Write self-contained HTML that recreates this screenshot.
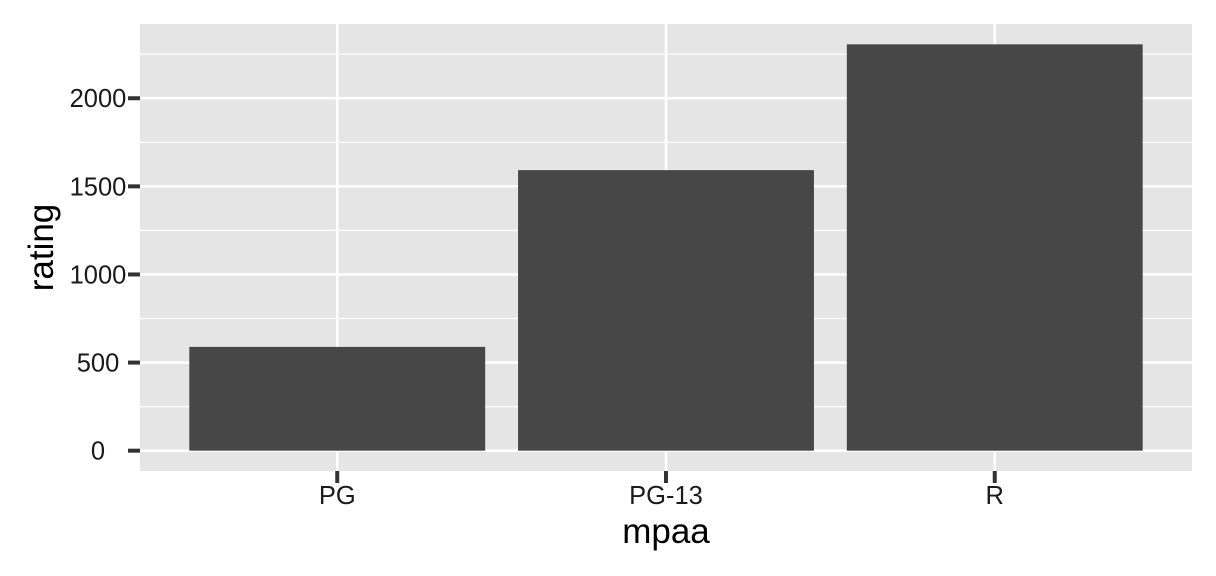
<!DOCTYPE html>
<html><head><meta charset="utf-8"><style>body{margin:0;background:#fff}svg{display:block}</style></head>
<body>
<svg id="chart" width="1216" height="576" xmlns="http://www.w3.org/2000/svg" font-family="Liberation Sans, sans-serif"></svg>
<script>
const categories = ["PG", "PG-13", "R"];
const ratingValues = [589, 1592, 2306];
const yTickValues = [0, 500, 1000, 1500, 2000];
const yTickLabels = ["0", "500", "1000", "1500", "2000"];

const svg = document.getElementById('chart');
const NS = 'http://www.w3.org/2000/svg';
const L = 140, R = 1192, T = 24, B = 471;
const yMax = Math.max(...ratingValues) * 1.05, yMin = -Math.max(...ratingValues) * 0.05;
const y = v => B - (v - yMin) / (yMax - yMin) * (B - T);
const step = (R - L) / (categories.length + 0.2);
const x = i => L + step * (0.6 + i);
function el(tag, attrs, parent) {
  const e = document.createElementNS(NS, tag);
  for (const k in attrs) e.setAttribute(k, attrs[k]);
  (parent || svg).appendChild(e);
  return e;
}
const bg = el('rect', {x: L, y: T, width: R - L, height: B - T, fill: '#e5e5e5'});


for (let i = 0; i < yTickValues.length - 1; i++) {
  const m = (yTickValues[i] + yTickValues[i + 1]) / 2;
  const g = el('line', {x1: L, x2: R, y1: y(m), y2: y(m), stroke: '#fff', 'stroke-width': 1.2});
  
  
}
const topMinor = yTickValues[yTickValues.length - 1] + 250;
if (y(topMinor) > T) {
  const g = el('line', {x1: L, x2: R, y1: y(topMinor), y2: y(topMinor), stroke: '#fff', 'stroke-width': 1.2});
  
  
}
yTickValues.forEach((v, i) => {
  const g = el('line', {x1: L, x2: R, y1: y(v), y2: y(v), stroke: '#fff', 'stroke-width': 2.6});
  
  
  const t = el('line', {x1: L - 12, x2: L, y1: y(v), y2: y(v), stroke: '#333', 'stroke-width': 4});
  
  
  const tx = el('text', {x: 98, y: y(v) + 9, 'text-anchor': 'middle', 'font-size': 25.5, fill: '#1a1a1a'});
  tx.textContent = yTickLabels[i];
  
  
});
categories.forEach((c, i) => {
  const g = el('line', {x1: x(i), x2: x(i), y1: T, y2: B, stroke: '#fff', 'stroke-width': 2.6});
  
  
});
categories.forEach((c, i) => {
  const w = step * 0.9;
  const b = el('rect', {x: x(i) - w / 2, y: y(ratingValues[i]), width: w, height: y(0) - y(ratingValues[i]), fill: '#474747'});
  
  
  const t = el('line', {x1: x(i), x2: x(i), y1: B, y2: B + 12, stroke: '#333', 'stroke-width': 4});
  
  
  const tx = el('text', {x: x(i), y: 504, 'text-anchor': 'middle', 'font-size': 25.5, fill: '#1a1a1a'});
  tx.textContent = c;
  
  
});
const xt = el('text', {x: (L + R) / 2, y: 543, 'text-anchor': 'middle', 'font-size': 35, fill: '#000'});
xt.textContent = 'mpaa';


const yt = el('text', {x: 0, y: 0, 'text-anchor': 'middle', 'font-size': 35, fill: '#000', transform: 'translate(53,' + (T + B) / 2 + ') rotate(-90)'});
yt.textContent = 'rating';


</script>
</body></html>
